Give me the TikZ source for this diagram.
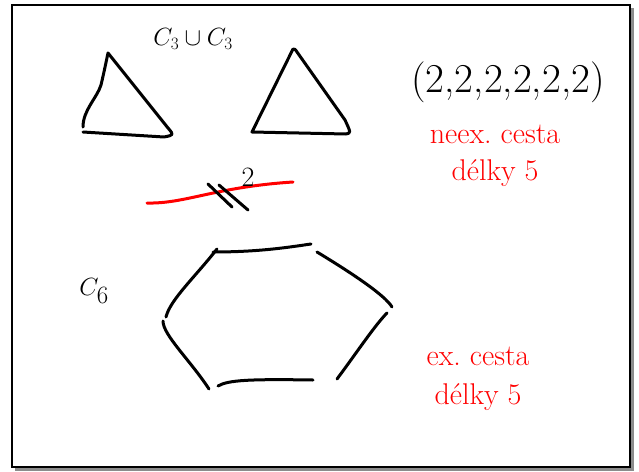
\documentclass[tikz,border=0pt]{standalone}
\usepackage{fontspec}
\usepackage{amsmath}
\usepackage{tikz}
\usetikzlibrary{positioning}

\begin{document}
\begin{tikzpicture}[x=1pt,y=-1pt,
  pen/.style={line width=3pt,line cap=round,line join=round},
  ink/.style={pen,black},
  redpen/.style={pen,red},
  lbl/.style={inner sep=0pt,align=center},
  note/.style={lbl,red,font=\fontsize{30}{34}\selectfont}]
  \useasboundingbox (0,0) rectangle (639,471);
  \fill[black!45] (15,8) rectangle (634,471);
  \draw[line width=2pt,fill=white] (12,5) rectangle (630,467);
  % the two triangles
  \draw[ink] (83,127) .. controls (83,110) and (97,98) .. (101,85) .. controls (104,72) .. (108,53) -- (168,128) .. controls (174,135) .. (164,137) -- (83,132);
  \draw[ink] (293,49) -- (252,132) -- (346,134) .. controls (351,133) .. (345,120) -- (297,52) .. controls (295,49) .. (293,49);
  \node[lbl,font=\fontsize{27}{30}\selectfont] (cup) at (193,39) {$C_3\cup C_3$};
  \node[lbl,font=\fontsize{41}{44}\selectfont] (seq) at (508,82) {(2,2,2,2,2,2)};
  \node[note] (neex) at (495,134) {neex.\ cesta};
  \node[note,below=16pt of neex] (neexlen) {délky 5};
  % crossed relation
  \draw[redpen] (147,203) .. controls (185,204) and (215,187) .. (293,182);
  \draw[ink] (208,184) -- (232,207);
  \draw[ink] (219,185) -- (248,210);
  \node[lbl,font=\fontsize{28}{30}\selectfont] (two) at (248,177) {2};
  % the hexagon
  \node[lbl,font=\fontsize{40}{44}\selectfont] (csix) at (94,291) {$C_6$};
  \draw[ink] (213,252) .. controls (260,252) and (290,247) .. (311,244);
  \draw[ink] (317,252) .. controls (350,272) and (385,295) .. (392,307);
  \draw[ink] (387,313) .. controls (375,325) and (355,355) .. (337,379);
  \draw[ink] (218,386) .. controls (228,380) and (250,379) .. (313,380);
  \draw[ink] (209,389) .. controls (190,360) and (163,335) .. (163,321);
  \draw[ink] (166,317) .. controls (170,300) and (195,277) .. (217,249);
  \node[note] (ex) at (478,356) {ex.\ cesta};
  \node[note,below=18pt of ex] (exlen) {délky 5};
\end{tikzpicture}
\end{document}
